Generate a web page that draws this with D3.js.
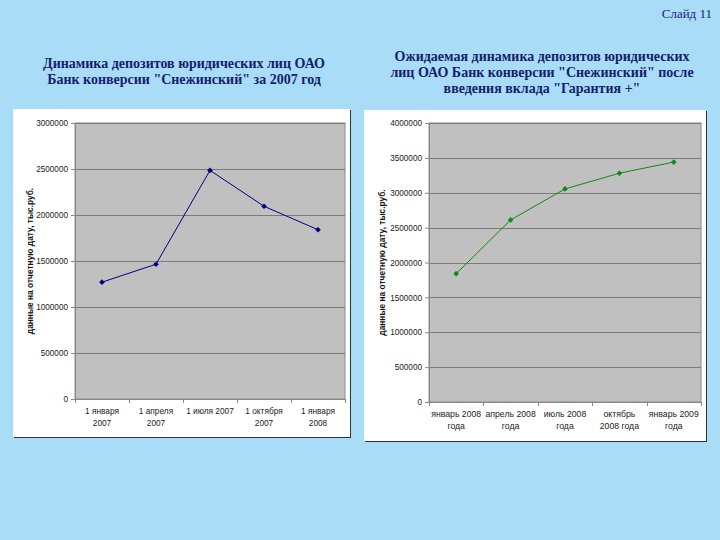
<!DOCTYPE html>
<html><head><meta charset="utf-8">
<script src="https://cdn.jsdelivr.net/npm/d3@7"></script>
<style>body{margin:0;background:#a9dcf7;} svg{display:block;}</style>
</head><body>
<svg id="c" width="720" height="540"></svg>
<script>
const cats1 = [["1 января","2007"],["1 апреля","2007"],["1 июля 2007"],["1 октября","2007"],["1 января","2008"]];
const vals1 = [1270000, 1465000, 2485000, 2095000, 1840000];
const ticks1 = [0,500000,1000000,1500000,2000000,2500000,3000000];

const cats2 = [["январь 2008","года"],["апрель 2008","года"],["июль 2008","года"],["октябрь","2008 года"],["январь 2009","года"]];
const vals2 = [1840000, 2610000, 3055000, 3280000, 3440000];
const ticks2 = [0,500000,1000000,1500000,2000000,2500000,3000000,3500000,4000000];

const title1 = ["Динамика депозитов юридических лиц ОАО","Банк конверсии \"Снежинский\" за 2007 год"];
const title2 = ["Ожидаемая динамика депозитов юридических","лиц ОАО Банк конверсии \"Снежинский\" после","введения вклада \"Гарантия +\""];
const yLabel = "данные на отчетную дату, тыс.руб.";

const svg = d3.select("#c");
svg.append("rect").attr("width",720).attr("height",540).attr("fill","#a9dcf7");

svg.append("text").attr("x",712).attr("y",18).attr("text-anchor","end")
  .attr("font-family","Liberation Serif, serif").attr("font-size",13).attr("fill","#1a237e").text("Слайд 11");

function titleBlock(lines, cx, y0){
  lines.forEach((l,i)=>svg.append("text").attr("x",cx).attr("y",y0+i*16).attr("text-anchor","middle")
    .attr("font-family","Liberation Serif, serif").attr("font-weight","bold").attr("font-size",14)
    .attr("fill","#14206e").text(l));
}
titleBlock(title1, 184, 68);
titleBlock(title2, 542, 61);

function chart(opt){
  const {box, plot, cats, vals, ticks, color, xlabY, ylabX, xfs} = opt;
  svg.append("rect").attr("x",box[0]+1).attr("y",box[1]+1).attr("width",box[2]-box[0]).attr("height",box[3]-box[1]).attr("fill","#333");
  svg.append("rect").attr("x",box[0]).attr("y",box[1]).attr("width",box[2]-box[0]).attr("height",box[3]-box[1]).attr("fill","#ffffff");
  const x = d3.scaleBand().domain(d3.range(cats.length)).range([plot[0],plot[2]]);
  const y = d3.scaleLinear().domain([ticks[0], ticks[ticks.length-1]]).range([plot[3],plot[1]]);
  svg.append("rect").attr("x",plot[0]).attr("y",plot[1]).attr("width",plot[2]-plot[0]).attr("height",plot[3]-plot[1])
    .attr("fill","#c0c0c0").attr("stroke","#8c8c8c").attr("stroke-width",1);
  svg.append("g").selectAll("line").data(ticks.slice(1)).join("line")
    .attr("x1",plot[0]).attr("x2",plot[2]).attr("y1",d=>Math.round(y(d))+0.5).attr("y2",d=>Math.round(y(d))+0.5)
    .attr("stroke","#7a7a7a").attr("stroke-width",1);
  const ya = svg.append("g").attr("transform",`translate(${plot[0]},0)`)
    .call(d3.axisLeft(y).tickValues(ticks).tickFormat(d3.format("d")).tickSize(4).tickPadding(3));
  ya.select(".domain").attr("stroke","#888");
  ya.selectAll(".tick line").attr("stroke","#888");
  ya.selectAll("text").attr("font-family","Liberation Sans, Arial, sans-serif").attr("font-size",8.2).attr("fill","#222");
  const xa = svg.append("g").attr("transform",`translate(0,${plot[3]})`);
  xa.append("line").attr("x1",plot[0]).attr("x2",plot[2]).attr("y1",0.5).attr("y2",0.5).attr("stroke","#888");
  d3.range(cats.length+1).forEach(i=>{
    const xx = i<cats.length ? x(i) : plot[2];
    xa.append("line").attr("x1",Math.round(xx)+0.5).attr("x2",Math.round(xx)+0.5).attr("y1",0).attr("y2",4).attr("stroke","#888");
  });
  cats.forEach((c,i)=>{
    c.forEach((l,j)=>xa.append("text").attr("x",x(i)+x.bandwidth()/2).attr("y",xlabY-plot[3]+j*12).attr("text-anchor","middle")
      .attr("font-family","Liberation Sans, Arial, sans-serif").attr("font-size",xfs).attr("fill","#222").text(l));
  });
  const cy = (plot[1]+plot[3])/2;
  svg.append("text").attr("transform",`translate(${ylabX},${cy}) rotate(-90)`).attr("text-anchor","middle")
    .attr("font-family","Liberation Sans, Arial, sans-serif").attr("font-weight","bold").attr("font-size",8.4).attr("fill","#111").text(yLabel);
  const line = d3.line().x((d,i)=>x(i)+x.bandwidth()/2).y(d=>y(d));
  svg.append("path").datum(vals).attr("d",line).attr("fill","none").attr("stroke",color).attr("stroke-width",1);
  svg.selectAll(null).data(vals).join("path")
    .attr("transform",(d,i)=>`translate(${x(i)+x.bandwidth()/2},${y(d)}) rotate(45)`)
    .attr("d",d3.symbol(d3.symbolSquare,16)).attr("fill",color);
}

chart({box:[13,109,350,437], plot:[75,123,345,399], cats:cats1, vals:vals1, ticks:ticks1, color:"#000080", xlabY:414, ylabX:33, xfs:8.3});
chart({box:[364,110,706,441], plot:[429,123,701,402], cats:cats2, vals:vals2, ticks:ticks2, color:"#0f8a0f", xlabY:417, ylabX:385, xfs:8.7});
</script>
</body></html>
